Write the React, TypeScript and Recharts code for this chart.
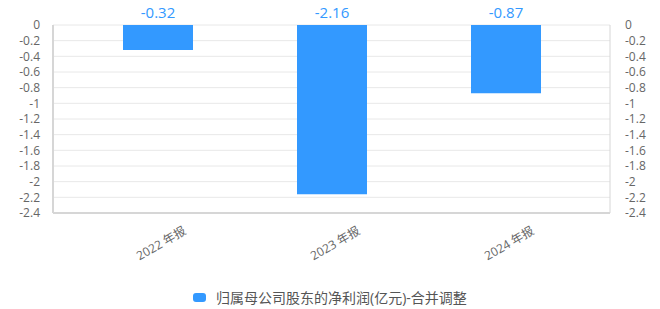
import { ComposedChart, Bar, Line, XAxis, YAxis, CartesianGrid, Legend, LabelList } from 'recharts'

const CATEGORIES = ['2022 年报', '2023 年报', '2024 年报']
const PROFIT = [-0.32, -2.16, -0.87]
const Y_TICKS = [0, -0.2, -0.4, -0.6, -0.8, -1, -1.2, -1.4, -1.6, -1.8, -2, -2.2, -2.4]
const SERIES_NAME = '归属母公司股东的净利润(亿元)-合并调整'

const BLUE = '#3399ff'
const FONT = '"Open Sans", "Noto Sans CJK SC", sans-serif'

const data = CATEGORIES.map((name, i) => ({ name, value: PROFIT[i] }))

function XTick(props: any) {
  const { x, y, payload } = props
  return (
    <text
      x={x + 3}
      y={y + 22}
      textAnchor="middle"
      dominantBaseline="central"
      fill="#666"
      fontSize={12}
      fontFamily={FONT}
      transform={`rotate(-30, ${x + 3}, ${y + 22})`}
    >
      {payload.value}
    </text>
  )
}

function TopLabel(props: any) {
  const { x, y, width, height, value } = props
  const top = Math.min(y, y + height)
  return (
    <text x={x + width / 2} y={top - 7} textAnchor="middle" fill={BLUE} fontSize={15} fontFamily={FONT}>
      {value}
    </text>
  )
}

function LegendContent() {
  return (
    <div style={{ display: 'flex', justifyContent: 'center', alignItems: 'center', height: 24, fontFamily: FONT, fontSize: 14, color: '#555' }}>
      <span style={{ width: 13, height: 9, borderRadius: 3, background: BLUE, display: 'inline-block', marginRight: 10 }} />
      {SERIES_NAME}
    </div>
  )
}

export default function App() {
  return (
    <div style={{ position: 'absolute', left: 0, top: 0, width: 660, height: 309, background: '#fff' }}>
      <ComposedChart width={660} height={309} data={data} margin={{ top: 25, right: 0, left: 0, bottom: 0 }}>
        <CartesianGrid vertical={false} stroke="#e8e8e8" yAxisId="left" />
        <XAxis
          dataKey="name"
          tick={<XTick />}
          tickLine={false}
          axisLine={{ stroke: '#d6d6d6', strokeWidth: 2 }}
          height={72}
          padding={{ left: 18, right: 17 }}
          interval={0}
        />
        <YAxis
          yAxisId="left"
          orientation="left"
          width={53}
          domain={[-2.4, 0]}
          ticks={Y_TICKS}
          interval={0}
          tickLine={false}
          axisLine={{ stroke: '#d6d6d6', strokeWidth: 2 }}
          tickMargin={7}
          tick={{ fill: '#666', fontSize: 12, fontFamily: FONT }}
        />
        <YAxis
          yAxisId="right"
          orientation="right"
          width={50}
          domain={[-2.4, 0]}
          ticks={Y_TICKS}
          interval={0}
          tickLine={false}
          axisLine={{ stroke: '#d6d6d6', strokeWidth: 1 }}
          tickMargin={9}
          tick={{ fill: '#666', fontSize: 12, fontFamily: FONT, textAnchor: 'start' }}
        />
        <Legend verticalAlign="bottom" height={24} content={<LegendContent />} />
        <Bar yAxisId="left" dataKey="value" name={SERIES_NAME} fill={BLUE} barSize={70} isAnimationActive={false}>
          <LabelList dataKey="value" content={<TopLabel />} />
        </Bar>
        <Line
          yAxisId="right"
          dataKey="value"
          stroke="none"
          dot={false}
          activeDot={false}
          legendType="none"
          isAnimationActive={false}
        />
      </ComposedChart>
    </div>
  )
}
